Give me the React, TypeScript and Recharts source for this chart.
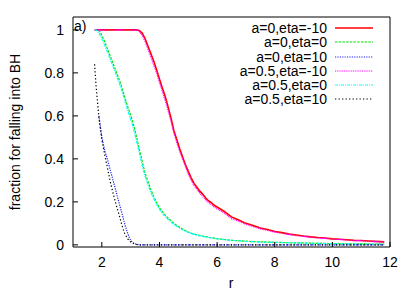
import { LineChart, Line, XAxis, YAxis, Label, Legend } from 'recharts';

// radius grid shared by all runs
const rValues = [
  1.75, 1.8, 1.9, 2.0, 2.1, 2.2, 2.3, 2.4, 2.5, 2.6, 2.7, 2.8, 2.9, 3.0, 3.1, 3.2,
  3.3, 3.4, 3.5, 3.6, 3.7, 3.8, 3.9, 4.0, 4.1, 4.2, 4.3, 4.4, 4.5, 4.6, 4.7, 4.8, 4.9, 5.0,
  5.1, 5.2, 5.3, 5.4, 5.5, 5.6, 5.7, 5.8, 5.9, 6.0,
  6.25, 6.5, 6.75, 7.0, 7.25, 7.5, 7.75, 8.0, 8.25, 8.5, 8.75, 9.0, 9.25, 9.5, 9.75, 10.0,
  10.25, 10.5, 10.75, 11.0, 11.25, 11.5, 11.8,
];

const a0EtaM10 = [
  1, 1, 1, 1, 1, 1, 1, 1, 1, 1, 1, 1, 1, 1, 1, 1,
  0.997, 0.985, 0.96, 0.925, 0.89, 0.855, 0.815, 0.772, 0.73, 0.69, 0.642, 0.59, 0.532, 0.49,
  0.448, 0.41, 0.374, 0.342, 0.312, 0.286, 0.268, 0.25, 0.236, 0.219, 0.205, 0.196, 0.184, 0.176,
  0.155, 0.13, 0.116, 0.1, 0.09, 0.078, 0.071, 0.062, 0.057, 0.05, 0.046, 0.041, 0.037, 0.034,
  0.032, 0.028, 0.026, 0.024, 0.021, 0.02, 0.018, 0.016, 0.014,
];

const a0Eta0 = [
  null, null, 1, 0.975, 0.945, 0.91, 0.875, 0.84, 0.805, 0.77, 0.73, 0.685, 0.642, 0.603, 0.56, 0.505,
  0.445, 0.39, 0.333, 0.295, 0.258, 0.225, 0.197, 0.172, 0.155, 0.138, 0.125, 0.113, 0.1, 0.09,
  0.082, 0.074, 0.066, 0.06, 0.055, 0.05, 0.047, 0.044, 0.041, 0.039, 0.036, 0.033, 0.031, 0.029,
  0.025, 0.021, 0.019, 0.017, 0.015, 0.014, 0.013, 0.012, 0.011, 0.01, 0.009, 0.009, 0.008, 0.007,
  0.007, 0.006, 0.006, 0.005, 0.005, 0.005, 0.004, 0.004, 0.004,
];

const a0Eta10 = [
  null, null, 0.6, 0.5, 0.44, 0.395, 0.345, 0.295, 0.245, 0.195, 0.145, 0.095, 0.052, 0.02, 0.008, 0.003,
  0, 0, 0, 0, 0, 0, 0, 0, 0, 0, 0, 0, 0, 0, 0, 0, 0, 0, 0, 0, 0, 0, 0, 0, 0, 0, 0, 0,
  0, 0, 0, 0, 0, 0, 0, 0, 0, 0, 0, 0, 0, 0, 0, 0, 0, 0, 0, 0, 0, 0, 0,
];

const a05EtaM10 = [
  1, 1, 1, 1, 1, 1, 1, 1, 1, 1, 1, 1, 1, 1, 1, 1,
  0.993, 0.975, 0.945, 0.91, 0.875, 0.835, 0.8, 0.755, 0.715, 0.67, 0.625, 0.575, 0.52, 0.475,
  0.435, 0.4, 0.365, 0.33, 0.3, 0.275, 0.258, 0.24, 0.225, 0.21, 0.197, 0.187, 0.176, 0.167,
  0.148, 0.122, 0.11, 0.095, 0.085, 0.074, 0.067, 0.059, 0.054, 0.048, 0.043, 0.039, 0.035, 0.032,
  0.03, 0.027, 0.025, 0.022, 0.02, 0.019, 0.017, 0.015, 0.013,
];

const a05Eta0 = [
  1, 1, 0.985, 0.96, 0.93, 0.895, 0.86, 0.825, 0.79, 0.755, 0.715, 0.67, 0.625, 0.585, 0.54, 0.485,
  0.43, 0.37, 0.32, 0.28, 0.245, 0.215, 0.19, 0.165, 0.148, 0.132, 0.118, 0.106, 0.095, 0.086,
  0.078, 0.07, 0.064, 0.058, 0.053, 0.049, 0.045, 0.042, 0.039, 0.037, 0.034, 0.032, 0.03, 0.028,
  0.024, 0.021, 0.018, 0.016, 0.015, 0.013, 0.012, 0.011, 0.01, 0.01, 0.009, 0.008, 0.008, 0.007,
  0.006, 0.006, 0.005, 0.005, 0.005, 0.004, 0.004, 0.004, 0.003,
];

const a05Eta10 = [
  0.84, 0.74, 0.59, 0.49, 0.42, 0.355, 0.29, 0.235, 0.185, 0.14, 0.09, 0.05, 0.028, 0.013, 0.006, 0.002,
  0, 0, 0, 0, 0, 0, 0, 0, 0, 0, 0, 0, 0, 0, 0, 0, 0, 0, 0, 0, 0, 0, 0, 0, 0, 0, 0, 0,
  0, 0, 0, 0, 0, 0, 0, 0, 0, 0, 0, 0, 0, 0, 0, 0, 0, 0, 0, 0, 0, 0, 0,
];

const xTicks = [2, 4, 6, 8, 10, 12];
const yTicks = [0, 0.2, 0.4, 0.6, 0.8, 1];

type Series = {
  key: string;
  name: string;
  values: (number | null)[];
  color: string;
  width: number;
  dash?: string;
};

const seriesList: Series[] = [
  { key: 'a0m10', name: 'a=0,eta=-10', values: a0EtaM10, color: '#ff0000', width: 1.6 },
  { key: 'a00', name: 'a=0,eta=0', values: a0Eta0, color: '#00e000', width: 1.2, dash: '2.5 1.2' },
  { key: 'a0p10', name: 'a=0,eta=10', values: a0Eta10, color: '#2020ff', width: 1.2, dash: '1.2 1.2' },
  { key: 'a5m10', name: 'a=0.5,eta=-10', values: a05EtaM10, color: '#ff00ff', width: 1.2, dash: '1 0.8' },
  { key: 'a50', name: 'a=0.5,eta=0', values: a05Eta0, color: '#00ffff', width: 1.2, dash: '3 1 1 1' },
  { key: 'a5p10', name: 'a=0.5,eta=10', values: a05Eta10, color: '#000000', width: 1.2, dash: '1.3 2.2' },
];

const rows = rValues.map((r, i) => {
  const row: Record<string, number | null> = { r };
  seriesList.forEach((s) => {
    row[s.key] = s.values[i];
  });
  return row;
});

const KeyBox = () => (
  <div style={{ fontSize: 14, color: '#000' }}>
    {seriesList.map((s) => (
      <div key={s.key} style={{ display: 'flex', alignItems: 'center', height: 14.2 }}>
        <span style={{ width: 127, textAlign: 'right', lineHeight: '14px' }}>{s.name}</span>
        <svg width={40} height={10} style={{ marginLeft: 8 }}>
          <line
            x1={0}
            x2={38}
            y1={5}
            y2={5}
            stroke={s.color}
            strokeWidth={s.width}
            strokeDasharray={s.dash}
          />
        </svg>
      </div>
    ))}
  </div>
);

// y tick labels, right-aligned just left of the frame
const YTick = (props: any) => (
  <text x={64} y={props.y} dy="0.355em" textAnchor="end" fontSize={14} fill="#000">
    {props.payload.value}
  </text>
);

const black = { stroke: '#000' };

export default function App() {
  return (
    <div style={{ fontFamily: '"Liberation Sans", Arial, sans-serif' }}>
      <style>{'body{margin:0}'}</style>
      <LineChart
        width={415}
        height={291}
        data={rows}
        margin={{ top: 0, right: 0, bottom: 0, left: 0 }}
      >
        <XAxis
          xAxisId="b"
          dataKey="r"
          type="number"
          domain={[1, 12]}
          ticks={xTicks}
          allowDataOverflow
          height={44}
          tickSize={-5}
          tickMargin={15}
          axisLine={black}
          tickLine={black}
          tick={{ fill: '#000', fontSize: 14 }}
        >
          <Label
            content={() => (
              <text x={231} y={288} textAnchor="middle" fontSize={14} fill="#000">
                r
              </text>
            )}
          />
        </XAxis>
        <XAxis
          xAxisId="t"
          orientation="top"
          dataKey="r"
          type="number"
          domain={[1, 12]}
          ticks={xTicks}
          allowDataOverflow
          height={17}
          tickSize={-5}
          axisLine={black}
          tickLine={black}
          tick={false}
        >
          <Label
            content={() => (
              <text x={74} y={31} fontSize={14} fill="#000">
                a)
              </text>
            )}
          />
        </XAxis>
        <YAxis
          yAxisId="l"
          type="number"
          domain={[-0.01, 1.06]}
          ticks={yTicks}
          allowDataOverflow
          width={73}
          tickSize={-5}
          axisLine={black}
          tickLine={black}
          tick={<YTick />}
        >
          <Label
            content={() => (
              <text
                transform="translate(19.5,132) rotate(-90)"
                textAnchor="middle"
                fontSize={14}
                fill="#000"
              >
                fraction for falling into BH
              </text>
            )}
          />
        </YAxis>
        <YAxis
          yAxisId="r"
          orientation="right"
          type="number"
          domain={[-0.01, 1.06]}
          ticks={yTicks}
          allowDataOverflow
          width={25}
          tickSize={-5}
          axisLine={black}
          tickLine={black}
          tick={false}
        />
        <Legend
          layout="vertical"
          align="center"
          verticalAlign="middle"
          wrapperStyle={{ left: 200, top: 21.2, width: 190 }}
          content={() => <KeyBox />}
        />
        {seriesList.map((s) => (
          <Line
            key={s.key}
            xAxisId="b"
            yAxisId="l"
            type="linear"
            dataKey={s.key}
            name={s.name}
            stroke={s.color}
            strokeWidth={s.width}
            strokeDasharray={s.dash}
            dot={false}
            activeDot={false}
            isAnimationActive={false}
          />
        ))}
      </LineChart>
    </div>
  );
}
